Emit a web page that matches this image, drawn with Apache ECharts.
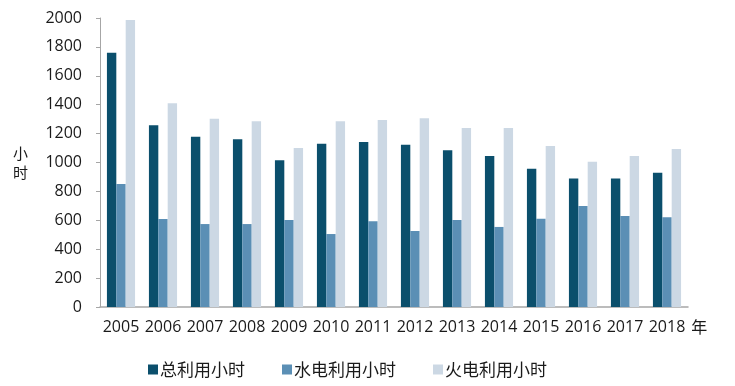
<!DOCTYPE html>
<html><head><meta charset="utf-8">
<script src="https://cdn.jsdelivr.net/npm/echarts@6/dist/echarts.min.js"></script>
<style>html,body{margin:0;padding:0;background:#fff}#c{width:735px;height:386px}</style>
</head><body><div id="c"></div>
<script>
var years = ['2005','2006','2007','2008','2009','2010','2011','2012','2013','2014','2015','2016','2017','2018'];
var totalHours = [1760,1257,1179,1161,1015,1130,1142,1123,1084,1045,957,890,890,929];
var hydroHours = [851,609,574,574,602,505,593,526,602,554,611,699,630,621];
var thermalHours = [1986,1410,1303,1285,1100,1285,1294,1306,1239,1239,1114,1006,1045,1093];
var seriesNames = ['总利用小时','水电利用小时','火电利用小时'];
var colors = ['#0b4f6c','#5b8fb5','#ccd8e4'];
var font = '"Open Sans", "Noto Sans CJK SC", sans-serif';
var chart = echarts.init(document.getElementById('c'));
chart.setOption({
  animation:false,
  textStyle:{fontFamily:font},
  grid:{left:100,right:47,top:18,bottom:79,containLabel:false},
  legend:{
    data:seriesNames, bottom:8, left:148, padding:0, itemWidth:10, itemHeight:10, itemGap:37,
    icon:'rect',
    textStyle:{fontSize:17,color:'#1a1a1a',fontFamily:'"Noto Sans CJK SC", sans-serif',padding:[0,0,0,-3]}
  },
  xAxis:{
    type:'category', data:years,
    name:'年', nameLocation:'end', nameGap:0,
    nameTextStyle:{fontSize:16,color:'#1a1a1a',verticalAlign:'top',padding:[12,0,0,0],fontFamily:'"Noto Sans CJK SC", sans-serif'},
    axisLine:{lineStyle:{color:'#a6a6a6',width:1.5}},
    axisTick:{show:false},
    axisLabel:{fontSize:16,color:'#1a1a1a',margin:12,interval:0}
  },
  yAxis:{
    type:'value', min:0, max:2000, interval:200,
    name:'小\n时', nameLocation:'middle', nameRotate:0, nameGap:72,
    nameTextStyle:{fontSize:15,color:'#1a1a1a',lineHeight:19,fontFamily:'"Noto Sans CJK SC", sans-serif'},
    axisLine:{show:true,lineStyle:{color:'#a6a6a6',width:1}},
    axisTick:{show:true,length:4,lineStyle:{color:'#a6a6a6'}},
    splitLine:{show:false},
    axisLabel:{fontSize:16,color:'#1a1a1a',margin:18,formatter:function(v){return String(v);}}
  },
  series:[
    {name:seriesNames[0],type:'bar',data:totalHours,itemStyle:{color:colors[0]},barGap:'0%',barCategoryGap:'33%'},
    {name:seriesNames[1],type:'bar',data:hydroHours,itemStyle:{color:colors[1]},barGap:'0%',barCategoryGap:'33%'},
    {name:seriesNames[2],type:'bar',data:thermalHours,itemStyle:{color:colors[2]},barGap:'0%',barCategoryGap:'33%'}
  ]
});
</script></body></html>
